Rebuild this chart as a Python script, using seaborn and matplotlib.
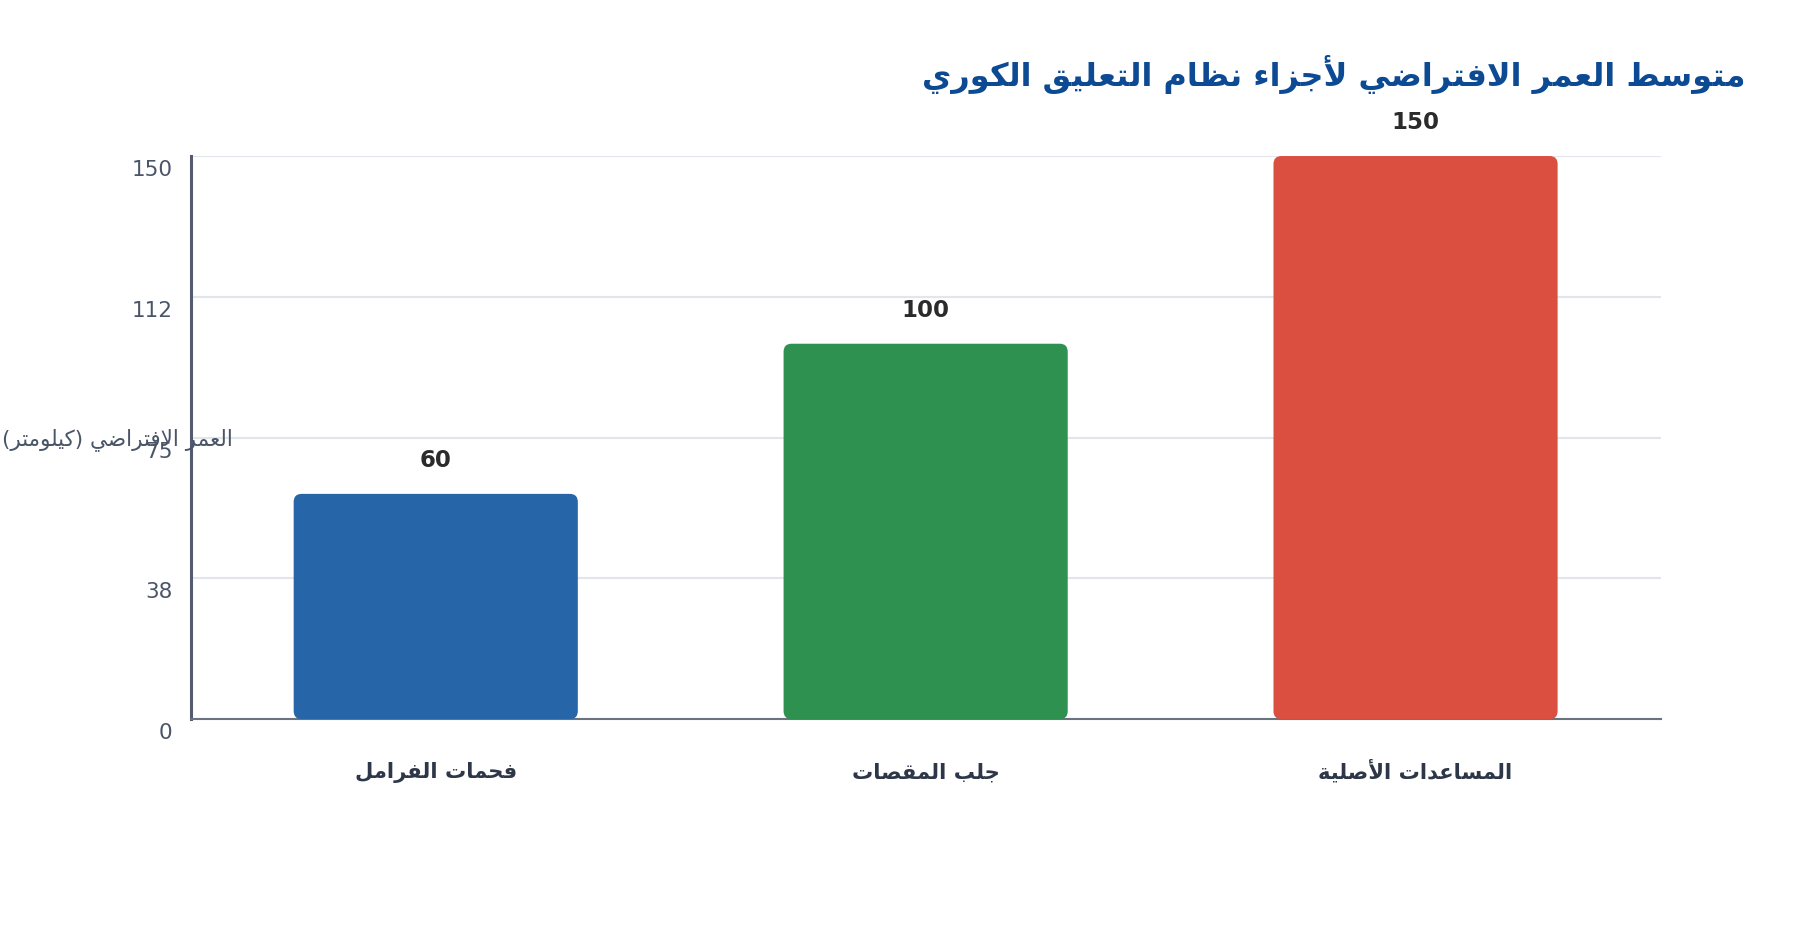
import matplotlib
matplotlib.use("Agg")
import matplotlib.pyplot as plt
import matplotlib.transforms as mtransforms
from matplotlib.patches import FancyBboxPatch
import seaborn as sns
import pandas as pd

# Chart data
TITLE = "متوسط العمر الافتراضي لأجزاء نظام التعليق الكوري"
Y_LABEL = "العمر الافتراضي (كيلومتر)"
CATEGORIES = ["فحمات الفرامل", "جلب المقصات", "المساعدات الأصلية"]
LIFESPAN_KM = [60, 100, 150]
BAR_COLORS = ["#2565a8", "#2e9150", "#da4f3f"]
Y_TICKS = [0, 37.5, 75, 112.5, 150]
Y_TICK_LABELS = ["0", "38", "75", "112", "150"]

# Minimal Arabic shaping (matplotlib has no bidi / joining support)
DUAL = {"ب": 0xFE8F, "ت": 0xFE95, "ج": 0xFE9D, "ح": 0xFEA1, "س": 0xFEB1,
        "ص": 0xFEB9, "ض": 0xFEBD, "ط": 0xFEC1, "ظ": 0xFEC5, "ع": 0xFEC9,
        "ف": 0xFED1, "ق": 0xFED5, "ك": 0xFED9, "ل": 0xFEDD, "م": 0xFEE1,
        "ن": 0xFEE5, "ي": 0xFEF1}
RIGHT = {"أ": 0xFE83, "إ": 0xFE87, "ا": 0xFE8D, "ة": 0xFE93, "د": 0xFEA9,
         "ر": 0xFEAD, "ز": 0xFEAF, "و": 0xFEED,
         "لا": 0xFEFB, "لأ": 0xFEF7, "لإ": 0xFEF9}
NONJOIN = {"ء": 0xFE80}


def shape(text):
    """Return Arabic text in visual order with contextual letter forms"""
    tokens = []
    i = 0
    while i < len(text):
        if text[i] == "ل" and text[i:i + 2] in RIGHT:
            tokens.append(text[i:i + 2])
            i += 2
        else:
            tokens.append(text[i])
            i += 1
    out = []
    for k, t in enumerate(tokens):
        prev = tokens[k - 1] if k > 0 else None
        nxt = tokens[k + 1] if k + 1 < len(tokens) else None
        if t in DUAL or t in RIGHT:
            base = DUAL.get(t, RIGHT.get(t))
            after = prev in DUAL
            before = t in DUAL and (nxt in DUAL or nxt in RIGHT)
            if after and before:
                off = 3
            elif after:
                off = 1
            elif before:
                off = 2
            else:
                off = 0
            out.append(chr(base + off))
        elif t in NONJOIN:
            out.append(chr(NONJOIN[t]))
        else:
            out.append(t)
    vis = "".join(reversed(out))
    return vis.translate(str.maketrans("()", ")("))


sns.set_style("white")
plt.rcParams["font.family"] = ["DejaVu Sans"]

fig = plt.figure(figsize=(18, 9.4), dpi=100)
ax = fig.add_axes([0.106, 0.235, 0.8165, 0.599])

df = pd.DataFrame({"part": [shape(c) for c in CATEGORIES], "km": LIFESPAN_KM})
sns.barplot(data=df, x="part", y="km", hue="part", palette=BAR_COLORS,
            width=0.58, saturation=1, legend=False, ax=ax, zorder=3)

ax.set_xlim(-0.5, 2.5)
ax.set_ylim(0, 150)

# swap the square bars for rounded ones
p0 = ax.transData.transform((0, 0))
p1 = ax.transData.transform((1, 1))
px_x = p1[0] - p0[0]
px_y = p1[1] - p0[1]
for bar in list(ax.patches):
    rounded = FancyBboxPatch((bar.get_x(), bar.get_y()), bar.get_width(), bar.get_height(),
                             boxstyle=f"round,pad=0,rounding_size={8 / px_x}",
                             mutation_aspect=px_x / px_y,
                             facecolor=bar.get_facecolor(), edgecolor="none", zorder=3)
    bar.remove()
    ax.add_patch(rounded)

# value labels
for i, v in enumerate(LIFESPAN_KM):
    ax.annotate(str(v), (i, v), xytext=(0, 24), textcoords="offset points",
                ha="center", va="center", fontsize=16.5, fontweight="bold", color="#2b2b2b")

ax.set_yticks(Y_TICKS)
ax.set_yticklabels(Y_TICK_LABELS)
ax.tick_params(axis="y", length=0, pad=13, labelsize=15.5, labelcolor="#4a5568")
ax.tick_params(axis="x", length=0, pad=42.5)
shift = mtransforms.ScaledTranslation(0, -0.12, fig.dpi_scale_trans)
for lbl in ax.get_yticklabels():
    lbl.set_transform(lbl.get_transform() + shift)
for lbl in ax.get_xticklabels():
    lbl.set_fontsize(15.2)
    lbl.set_fontweight("bold")
    lbl.set_color("#2d3748")
    lbl.set_va("baseline")

ax.grid(axis="y", color="#e2e5ea", linewidth=1.5, zorder=0)
ax.set_axisbelow(True)
ax.set_xlabel("")
ax.set_ylabel("")
for side in ["top", "right"]:
    ax.spines[side].set_visible(False)
ax.spines["left"].set_color("#525c6e")
ax.spines["left"].set_linewidth(2.2)
ax.spines["bottom"].set_color("#6b7280")
ax.spines["bottom"].set_linewidth(1.5)

fig.text(0.0655, 1 - 440 / 940, shape(Y_LABEL), ha="center", va="center",
         fontsize=15.5, color="#4a5568")
fig.text(0.970, 1 - 75 / 940, shape(TITLE), ha="right", va="center",
         fontsize=23, fontweight="bold", color="#0d4a94")

fig.savefig("out.png", dpi=100)
